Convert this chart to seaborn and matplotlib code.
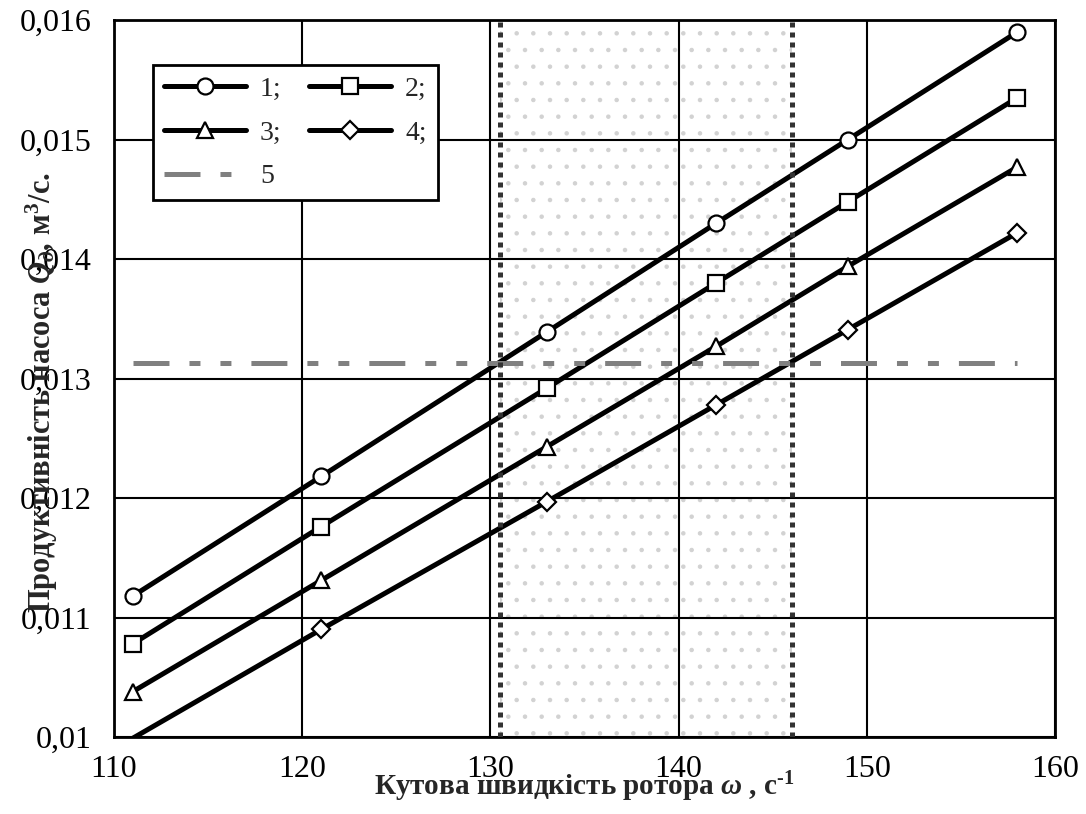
import matplotlib
matplotlib.use("Agg")
import matplotlib.pyplot as plt
import seaborn as sns
import pandas as pd
from matplotlib.ticker import FuncFormatter
from matplotlib.lines import Line2D

# ---- data ----
omega = [111, 121, 133, 142, 149, 158]
q1 = [0.01118, 0.01218, 0.01339, 0.01430, 0.01500, 0.01590]
q2 = [0.01078, 0.01176, 0.01292, 0.01380, 0.01448, 0.01535]
q3 = [0.01038, 0.01131, 0.01243, 0.01327, 0.01394, 0.01477]
q4 = [0.00999, 0.01090, 0.01197, 0.01278, 0.01341, 0.01422]
q5 = [0.013132] * 6
series_labels = ["1;", "2;", "3;", "4;", "5"]
zone = [130.5, 146.0]
x_ticks = [110, 120, 130, 140, 150, 160]
y_ticks = [0.010, 0.011, 0.012, 0.013, 0.014, 0.015, 0.016]

sns.set_style("white")
plt.rcParams["font.family"] = ["Liberation Serif", "DejaVu Serif"]
plt.rcParams["mathtext.fontset"] = "custom"
plt.rcParams["mathtext.rm"] = "Liberation Serif:bold"
plt.rcParams["mathtext.bf"] = "Liberation Serif:bold"
plt.rcParams["mathtext.it"] = "Liberation Serif:italic:bold"
plt.rcParams["lines.scale_dashes"] = False
plt.rcParams["hatch.linewidth"] = 0.8

fig = plt.figure(figsize=(10.86, 8.14), dpi=100)
ax = fig.add_axes([0.105, 0.0946, 0.8665, 0.8808])

ymin, ymax = y_ticks[0], y_ticks[-1]

# shaded zone
ax.axvspan(zone[0], zone[1], facecolor="white", edgecolor="#d2d2d2",
           hatch=".", linewidth=0, zorder=0.2)

lw = 3.6
ms = 11.5
mew = 1.6
styles = [("o", q1), ("s", q2), ("^", q3), ("D", q4)]
handles = []
for (mk, ys), lab in zip(styles, series_labels[:4]):
    df = pd.DataFrame({"x": omega, "y": ys})
    visible = [i for i, v in enumerate(ys) if v >= ymin]
    msz = ms if mk != "D" else ms * 0.8
    sns.lineplot(data=df, x="x", y="y", ax=ax, color="black", linewidth=lw,
                 marker=mk, markersize=msz, markerfacecolor="white",
                 markeredgecolor="black", markeredgewidth=mew,
                 markevery=visible, zorder=3, legend=False)
    handles.append(Line2D([], [], color="black", lw=lw, marker=mk, markersize=msz,
                          markerfacecolor="white", markeredgecolor="black",
                          markeredgewidth=mew, label=lab))

dash5 = (0, (25.9, 14.4, 7.9, 14.4, 7.9, 14.4))
df5 = pd.DataFrame({"x": omega, "y": q5})
sns.lineplot(data=df5, x="x", y="y", ax=ax, color="#808080", linewidth=3.6,
             legend=False, zorder=4)
ax.lines[-1].set_linestyle(dash5)
ax.lines[-1].set_dash_capstyle("butt")
handles.append(Line2D([], [], color="#808080", lw=3.6, linestyle=dash5,
                      dash_capstyle="butt", label=series_labels[4]))

for xv in zone:
    ax.axvline(xv, color="#333333", linewidth=3.6, linestyle=(0, (3.6, 3.6)),
               dash_capstyle="butt", zorder=5)

ax.set_xlim(x_ticks[0], x_ticks[-1])
ax.set_ylim(ymin, ymax)
ax.set_xticks(x_ticks)
ax.set_yticks(y_ticks)
ax.yaxis.set_major_formatter(FuncFormatter(lambda v, p: f"{round(v, 4):g}".replace(".", ",")))
ax.grid(True, color="black", linewidth=1.5)
ax.set_axisbelow(True)
for s in ax.spines.values():
    s.set_color("black")
    s.set_linewidth(2.0)
ax.tick_params(axis="both", direction="out", length=7, width=1.5, color="black",
               labelsize=23, labelcolor="black")
ax.tick_params(axis="y", pad=9)
ax.tick_params(axis="x", pad=6)

ax.set_xlabel("Кутова швидкість ротора $\\omega$ , с$^{\\text{-1}}$", fontsize=21,
              fontweight="bold")
ax.set_ylabel("Продуктивність насоса $Q_{д}$, м$^{3}$/с.", fontsize=22,
              fontweight="bold")
ax.xaxis.set_label_coords(0.5, -0.07)
ax.xaxis.label.set_verticalalignment("center")
ax.yaxis.set_label_coords(-0.077, 0.481)
ax.yaxis.label.set_verticalalignment("center")

order = [0, 2, 4, 1, 3]
leg = ax.legend([handles[i] for i in order], [series_labels[i] for i in order],
                ncol=2, loc="upper left", bbox_to_anchor=(0.0414, 0.937),
                borderaxespad=0, fontsize=20, frameon=True, fancybox=False,
                framealpha=1, edgecolor="black", handlelength=2.95,
                handletextpad=0.5, columnspacing=1.0, labelspacing=0.66,
                borderpad=0.4)
leg.get_frame().set_linewidth(2.0)
leg.set_zorder(10)

fig.savefig("out.png", dpi=100)
